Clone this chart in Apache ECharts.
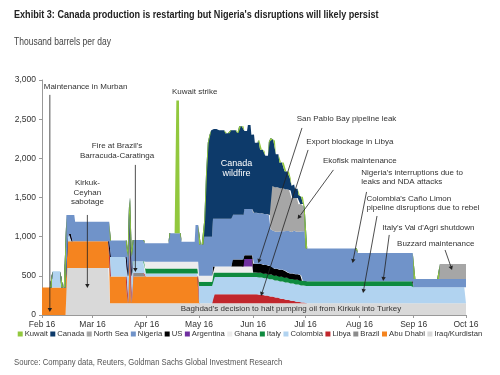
<!DOCTYPE html>
<html lang="en">
  <head>
    <meta charset="UTF-8" />
    <title>Oil supply disruptions 2016</title>
    <script src="https://cdn.jsdelivr.net/npm/echarts@6.0.0/dist/echarts.min.js"></script>
    <style>
      html, body { margin: 0; padding: 0; background: #fff; }
      #chart { width: 500px; height: 375px; }
    </style>
  </head>
  <body>
    <div id="chart"></div>
    <script>
      // days counted from 1 Feb 2016 (day 0) to 1 Oct 2016 (day 243)
      var lastDay = 243;
      var monthNames = ['Jan', 'Feb', 'Mar', 'Apr', 'May', 'Jun', 'Jul', 'Aug', 'Sep', 'Oct', 'Nov', 'Dec'];

      // legend order (top of stack first)
      var legendNames = ['Kuwait', 'Canada', 'North Sea', 'Nigeria', 'US', 'Argentina', 'Ghana',
        'Italy', 'Colombia', 'Libya', 'Brazil', 'Abu Dhabi', 'Iraq/Kurdistan'];

      // outages, thousand barrels per day; each run is [first day, value], value holds until next run
      var iraq = [[0, 0], [14, 600], [39, 150]];
      var abuDhabi = [[0, 350], [14, 340], [49, 0], [50, 930], [51, 0], [52, 340], [90, 0]];
      var brazil = [[0, 0], [52, 45], [59, 0]];
      var libya = [[0, 0], [98, 114], [124, 110], [127, 98], [130, 86], [133, 72], [136, 58], [139, 44],
        [142, 31], [145, 19], [148, 8], [151, 0]];
      var colombia = [[0, 0], [6, 210], [11, 0], [14, 95], [17, 0], [39, 250], [49, 340], [50, 200], [51, 340],
        [52, 150], [59, 40], [90, 220], [213, 205]];
      var italy = [[0, 0], [59, 65], [90, 55], [98, 60], [213, 0]];
      var ghana = [[0, 0], [59, 85], [90, 75], [121, 0]];
      var argentina = [[0, 0], [116, 95], [121, 0]];
      var us = [[0, 0], [109, 90], [116, 50], [121, 110], [132, 90], [140, 70], [149, 0]];
      var nigeria = [[0, 0], [14, 242], [17, 337], [19, 252], [39, 210], [49, 250], [50, 220], [51, 250], [52, 273],
        [59, 236], [73, 363], [80, 256], [88, 470], [90, 400], [93, 500], [98, 610], [109, 570], [116, 590],
        [121, 650], [131, 470], [136, 490], [140, 528], [144, 544], [148, 560], [149, 630], [151, 420],
        [181, 361], [213, 105]];
      var northSea = [[0, 0], [131, 570], [136, 550], [140, 530], [143, 430], [147, 350], [150, 313], [151, 0], [228, 190]];
      var canada = [[0, 0], [93, 213], [94, 800], [95, 1200], [96, 1300], [97, 1360], [98, 1146], [101, 1131],
        [105, 1091], [108, 1131], [109, 1081], [112, 1041], [113, 1131], [116, 996], [118, 1071], [120, 946],
        [121, 1000], [122, 895], [124, 935], [125, 810], [128, 745], [130, 935], [131, 595], [134, 420],
        [136, 330], [139, 230], [142, 160], [145, 120], [148, 90], [150, 0]];
      var kuwait = [[0, 0], [77, 1695], [79, 0]];

      // stacking order, bottom first
      var stackOrder = [
        ['Iraq/Kurdistan', iraq, '#d9d9d9'],
        ['Abu Dhabi', abuDhabi, '#f5841f'],
        ['Brazil', brazil, '#8c8c8c'],
        ['Libya', libya, '#c1262c'],
        ['Colombia', colombia, '#b1d3f0'],
        ['Italy', italy, '#0e8a3e'],
        ['Ghana', ghana, '#ededed'],
        ['Argentina', argentina, '#7030a0'],
        ['US', us, '#000000'],
        ['Nigeria', nigeria, '#7093c9'],
        ['North Sea', northSea, '#a6a6a6'],
        ['Canada', canada, '#0d3a6a'],
        ['Kuwait', kuwait, '#92c83e']
      ];

      function pad(n) { return n < 10 ? '0' + n : '' + n; }

      // every day gets a start and an end slot so that changes show as near-vertical steps
      var slots = [];
      var slotDay = [];
      for (var d = 0; d <= lastDay; d++) {
        var dt = new Date(2016, 1, 1 + d);
        var key = dt.getFullYear() + '-' + pad(dt.getMonth() + 1) + '-' + pad(dt.getDate());
        slots.push(key);
        slotDay.push(d);
        if (d < lastDay) {
          slots.push(key + ' end');
          slotDay.push(d);
        }
      }

      function expand(runs) {
        return slotDay.map(function (day) {
          var v = 0;
          for (var k = 0; k < runs.length && runs[k][0] <= day; k++) v = runs[k][1];
          return v;
        });
      }

      function isMonthStart(index, value) {
        return value.length === 10 && value.slice(8) === '01';
      }

      var font = "'Liberation Sans', Arial, sans-serif";

      var chart = echarts.init(document.getElementById('chart'));

      var series = stackOrder.map(function (s) {
        return {
          name: s[0],
          type: 'line',
          stack: 'outages',
          data: expand(s[1]),
          symbol: 'none',
          showSymbol: false,
          lineStyle: { width: 0 },
          itemStyle: { color: s[2] },
          areaStyle: { color: s[2], opacity: 1 },
          emphasis: { disabled: true },
          animation: false
        };
      });

      chart.setOption({
        animation: false,
        legend: {
          data: legendNames,
          top: 330,
          left: 'center',
          icon: 'rect',
          itemWidth: 5,
          itemHeight: 5,
          itemGap: 2.5,
          padding: 0,
          textStyle: { fontFamily: font, fontSize: 7.7, color: '#333', padding: [0, 0, 0, -3] }
        },
        grid: { left: 42, right: 34, top: 80, bottom: 60 },
        xAxis: {
          type: 'category',
          data: slots,
          boundaryGap: false,
          axisLine: { lineStyle: { color: '#999' } },
          axisTick: { interval: isMonthStart, length: 3, lineStyle: { color: '#999' } },
          axisLabel: {
            interval: isMonthStart,
            fontFamily: font, fontSize: 8.5, color: '#333', margin: 5,
            formatter: function (v) {
              return monthNames[parseInt(v.slice(5, 7), 10) - 1] + ' ' + v.slice(2, 4);
            }
          },
          splitLine: { show: false }
        },
        yAxis: {
          type: 'value',
          min: 0, max: 3000, interval: 500,
          axisLine: { show: true, lineStyle: { color: '#999' } },
          axisTick: { show: true, length: 3, lineStyle: { color: '#999' } },
          axisLabel: {
            fontFamily: font, fontSize: 8.5, color: '#333', margin: 6,
            formatter: function (v) { return v.toLocaleString('en-US'); }
          },
          splitLine: { show: false }
        },
        series: series
      });

      // annotations, anchored in data space: [day, value]
      var notes = [
        { text: 'Maintenance in Murban', at: [1.1, 2912], align: 'left' },
        { text: 'Kirkuk-\nCeyhan\nsabotage', at: [25.9, 1745], align: 'center', multi: true },
        { text: "Fire at Brazil's\nBarracuda-Caratinga", at: [43.1, 2215], align: 'center', multi: true },
        { text: 'Kuwait strike', at: [74.7, 2848], align: 'left' },
        { text: 'Canada\nwildfire', at: [111.5, 1990], align: 'center', multi: true, color: '#fff', size: 9 },
        { text: 'San Pablo Bay pipeline leak', at: [146, 2503], align: 'left' },
        { text: 'Export blockage in Libya', at: [151.7, 2209], align: 'left' },
        { text: 'Ekofisk maintenance', at: [160.9, 1967], align: 'left' },
        { text: "Nigeria's interruptions due to\nleaks and NDA attacks", at: [182.8, 1880], align: 'left', multi: true },
        { text: "Colombia's Caño Limon\npipeline disruptions due to rebel", at: [186.2, 1548], align: 'left', multi: true },
        { text: "Italy's Val d'Agri shutdown", at: [194.8, 1111], align: 'left' },
        { text: 'Buzzard maintenance', at: [203.4, 913], align: 'left' },
        { text: "Baghdad's decision to halt pumping oil from Kirkuk into Turkey", at: [79.3, 77], align: 'left' }
      ];

      var arrows = [
        [[4.6, 2810], [4.6, 38]],
        [[26, 1277], [26, 345]],
        [[53.4, 1916], [53.4, 549]],
        [[148.9, 2388], [124.1, 664]],
        [[152.3, 2107], [125.3, 243]],
        [[167.2, 1852], [146.6, 1226]],
        [[186.2, 1571], [178.2, 664]],
        [[192, 1264], [183.9, 281]],
        [[198.9, 1022], [195.4, 434]],
        [[231, 830], [235.1, 575]]
      ];

      // day -> slot index (day d starts at slot 2d)
      function px(p) {
        return chart.convertToPixel({ gridIndex: 0 }, [p[0] * 2, p[1]]);
      }

      // condensed header and footer text: regular face squeezed horizontally
      var graphics = [
        {
          type: 'text', x: 14, y: 15, scaleX: 0.865, silent: true,
          style: {
            text: "Exhibit 3: Canada production is restarting but Nigeria's disruptions will likely persist",
            font: 'bold 10.5px ' + font, fill: '#222', verticalAlign: 'middle'
          }
        },
        {
          type: 'text', x: 14, y: 42, scaleX: 0.81, silent: true,
          style: { text: 'Thousand barrels per day', font: '10.5px ' + font, fill: '#444', verticalAlign: 'middle' }
        },
        {
          type: 'text', x: 14, y: 362, scaleX: 0.81, silent: true,
          style: {
            text: 'Source: Company data, Reuters, Goldman Sachs Global Investment Research',
            font: '9.5px ' + font, fill: '#555', verticalAlign: 'middle'
          }
        }
      ];

      notes.forEach(function (n) {
        var p = px(n.at);
        graphics.push({
          type: 'text',
          x: p[0], y: p[1],
          z: 100,
          silent: true,
          style: {
            text: n.text,
            fill: n.color || '#333',
            font: (n.size || 8) + 'px ' + font,
            align: n.align,
            verticalAlign: n.multi ? 'top' : 'middle',
            lineHeight: n.multi ? 9.5 : undefined
          }
        });
      });

      arrows.forEach(function (a) {
        var p0 = px(a[0]);
        var p1 = px(a[1]);
        var dx = p1[0] - p0[0], dy = p1[1] - p0[1];
        var len = Math.sqrt(dx * dx + dy * dy);
        var ux = dx / len, uy = dy / len;
        var head = 4, half = 2.2;
        var bx = p1[0] - ux * head, by = p1[1] - uy * head;
        graphics.push({
          type: 'line', silent: true, z: 100,
          shape: { x1: p0[0], y1: p0[1], x2: bx, y2: by },
          style: { stroke: '#222', lineWidth: 0.8 }
        });
        graphics.push({
          type: 'polygon', silent: true, z: 100,
          shape: { points: [[p1[0], p1[1]], [bx - uy * half, by + ux * half], [bx + uy * half, by - ux * half]] },
          style: { fill: '#222' }
        });
      });

      chart.setOption({ graphic: graphics });
    </script>
  </body>
</html>
